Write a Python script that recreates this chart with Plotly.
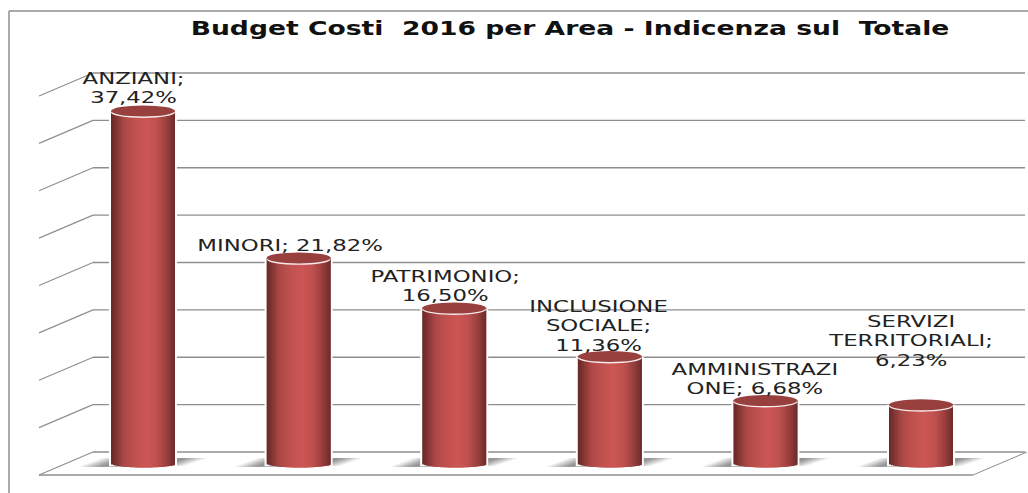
import plotly.graph_objects as go

categories = ["ANZIANI", "MINORI", "PATRIMONIO", "INCLUSIONE SOCIALE", "AMMINISTRAZIONE", "SERVIZI TERRITORIALI"]
values = [37.42, 21.82, 16.50, 11.36, 6.68, 6.23]
labels = ["ANZIANI;<br>37,42%", "MINORI; 21,82%", "PATRIMONIO;<br>16,50%",
          "INCLUSIONE<br>SOCIALE;<br>11,36%", "AMMINISTRAZI<br>ONE; 6,68%", "SERVIZI<br>TERRITORIALI;<br>6,23%"]
title = "Budget Costi\u00a0 2016 per Area - Indicenza sul\u00a0 Totale"

W, H = 1028, 493
X0, DX = 143.0, 155.6          # pixel of first category, pixels per category
Y0, SY = 463.5, 9.42           # pixel of value 0, pixels per unit
BAR_W = 64 / DX
TOP_B, BOT_B = 5.5 / SY, 4.0 / SY
label_px = [(133, 89), (290, 246), (445, 287), (598, 326), (755, 380), (910, 341)]
grid_px = [452 - 47.375 * k for k in range(9)]

stops = [(0.0, (104, 40, 39)), (0.08, (128, 52, 50)), (0.2, (170, 72, 70)), (0.35, (190, 80, 78)),
         (0.55, (204, 86, 84)), (0.72, (190, 80, 78)), (0.88, (150, 62, 60)), (1.0, (108, 42, 41))]

def shade(t):
    for (a, ca), (b, cb) in zip(stops, stops[1:]):
        if t <= b:
            f = (t - a) / (b - a)
            return "rgb(%d,%d,%d)" % tuple(round(p + (q - p) * f) for p, q in zip(ca, cb))
    return "rgb(108,42,41)"

px = lambda p: p / W
py = lambda p: 1 - p / H
GRAY = "#8e8e8e"
xs = list(range(len(values)))
fig = go.Figure()

# white halo round each cylinder
fig.add_trace(go.Bar(x=xs, y=[v + 0.3 for v in values], base=-0.3, width=BAR_W + 4.0 / DX,
                     marker=dict(color="white", line_width=0), hoverinfo="skip"))

# cylinder body as vertical strips whose lower end follows the bottom ellipse
N = 32
for k in range(N):
    t = (k + 0.5) / N
    off = -BAR_W / 2 + BAR_W * k / N
    curve = BOT_B * (1 - (2 * t - 1) ** 2) ** 0.5
    wide = min(2.2, N - k) * BAR_W / N
    fig.add_trace(go.Bar(x=xs, y=[v + curve for v in values], base=-curve,
                         width=wide, offset=off,
                         marker=dict(color=shade(t), line_width=0), hoverinfo="skip"))

shapes = [
    dict(type="line", xref="paper", yref="paper", x0=px(9), x1=px(1028), y0=py(11), y1=py(11),
         line=dict(color=GRAY, width=1.5), layer="below"),
    dict(type="line", xref="paper", yref="paper", x0=px(9), x1=px(9), y0=py(11), y1=py(493),
         line=dict(color=GRAY, width=1.5), layer="below"),
    dict(type="line", xref="paper", yref="paper", x0=px(39), x1=px(973), y0=py(475), y1=py(475),
         line=dict(color=GRAY, width=1.5), layer="below"),
    dict(type="line", xref="paper", yref="paper", x0=px(973), x1=px(1027), y0=py(475), y1=py(452),
         line=dict(color=GRAY, width=1), layer="below"),
]
for g in grid_px:
    shapes.append(dict(type="line", xref="paper", yref="paper", x0=px(93), x1=px(1025), y0=py(g), y1=py(g),
                       line=dict(color=GRAY, width=1.3), layer="below"))
    shapes.append(dict(type="line", xref="paper", yref="paper", x0=px(39), x1=px(93), y0=py(g + 23), y1=py(g),
                       line=dict(color=GRAY, width=1.1), layer="below"))

# floor shadows, fading outwards through stacked translucent layers
for i in xs:
    c = X0 + i * DX
    for a, op in [(64, 0.14), (60, 0.16), (56, 0.2), (52, 0.24), (48, 0.28), (44, 0.32)]:
        path = "M %.4f,%.4f L %.4f,%.4f L %.4f,%.4f L %.4f,%.4f Z" % (
            px(c - a), py(467), px(c - a + 24), py(458), px(c + a), py(458), px(c + a - 24), py(466))
        shapes.append(dict(type="path", xref="paper", yref="paper", path=path,
                           fillcolor="#7a7a7a", opacity=op, line_width=0, layer="below"))

# top faces: a white crescent below the dark ellipse
for i, v in zip(xs, values):
    shapes.append(dict(type="circle", xref="x", yref="y", x0=i - BAR_W / 2, x1=i + BAR_W / 2,
                       y0=v - TOP_B - 1.4 / SY, y1=v + TOP_B - 1.4 / SY, fillcolor="#f7ecec",
                       line_width=0, layer="above"))
    shapes.append(dict(type="circle", xref="x", yref="y", x0=i - BAR_W / 2, x1=i + BAR_W / 2,
                       y0=v - TOP_B, y1=v + TOP_B, fillcolor="#98403e",
                       line_width=0, layer="above"))

annotations = [dict(x=px(p[0]), y=py(p[1]), xref="paper", yref="paper", text=t, showarrow=False,
                    xanchor="center", yanchor="middle", align="center",
                    font=dict(family="DejaVu Sans", size=15, color="#222222"))
               for p, t in zip(label_px, labels)]

fig.update_layout(
    width=W, height=H, autosize=False, margin=dict(l=0, r=0, t=0, b=0),
    paper_bgcolor="white", plot_bgcolor="rgba(0,0,0,0)", showlegend=False, barmode="overlay",
    title=dict(text=title, x=570 / W, xanchor="center", y=py(28), yanchor="middle",
               font=dict(family="DejaVu Sans", size=19, color="#111111", weight="bold")),
    xaxis=dict(visible=False, range=[-X0 / DX, (W - X0) / DX]),
    yaxis=dict(visible=False, range=[(Y0 - H) / SY, Y0 / SY]),
    shapes=shapes, annotations=annotations,
)
# the page's default margin is removed; the reference's lettering is horizontally stretched
post = """
document.body.style.margin = '0';
function stretch(sel, k) {
  document.querySelectorAll(sel).forEach(function (t) {
    t.style.transformBox = 'fill-box';
    t.style.transformOrigin = 'center';
    t.style.transform = 'scaleX(' + k + ')';
  });
}
stretch('.gtitle', 1.40);
stretch('.annotation-text', 1.52);
"""
fig.write_html("out.html", config=dict(displayModeBar=False), post_script=post)
